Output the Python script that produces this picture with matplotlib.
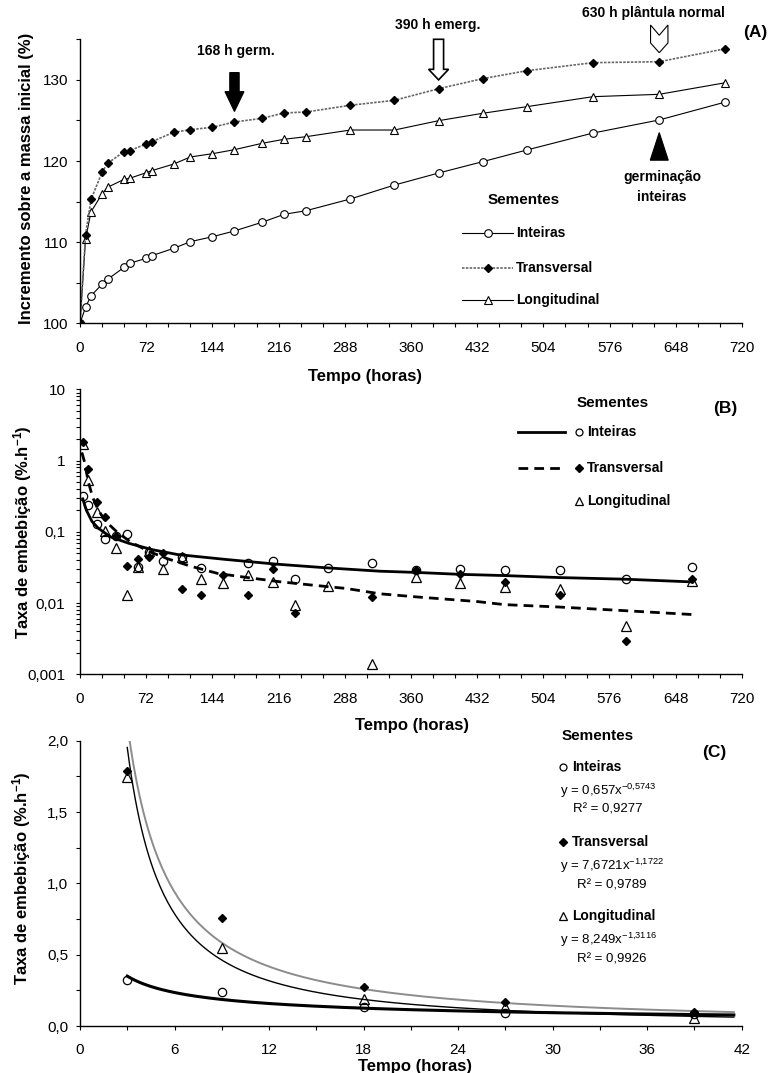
import numpy as np
import matplotlib
matplotlib.use('Agg')
import matplotlib.pyplot as plt
from matplotlib.lines import Line2D
from matplotlib.patches import Polygon
from matplotlib.ticker import MultipleLocator, FixedLocator, FixedFormatter, NullFormatter, FuncFormatter

plt.rcParams['font.family'] = ['Liberation Sans', 'DejaVu Sans']
plt.rcParams['mathtext.fontset'] = 'custom'
plt.rcParams['mathtext.rm'] = 'Liberation Sans'
plt.rcParams['mathtext.bf'] = 'Liberation Sans:bold'
plt.rcParams['mathtext.it'] = 'Liberation Sans:italic'

## ~~ data, panel A: mass increase (%) ~~
t_a = [0, 6, 12, 24, 30, 48, 54, 72, 78, 102, 120, 144, 168, 198, 222, 246, 294, 342, 390, 438, 486, 558, 630, 702]
a_inteiras = [100, 101.97, 103.40, 104.81, 105.42, 106.90, 107.39, 108.01, 108.33, 109.24, 110.06, 110.67,
              111.38, 112.45, 113.43, 113.88, 115.32, 117.04, 118.52, 119.92, 121.36, 123.45, 125.06, 127.27]
a_transversal = [100, 110.88, 115.28, 118.61, 119.72, 121.15, 121.27, 122.10, 122.38, 123.54, 123.86, 124.16,
                 124.81, 125.26, 125.92, 126.04, 126.87, 127.48, 128.91, 130.15, 131.13, 132.12, 132.24, 133.84]
a_longitudinal = [100, 110.35, 113.75, 115.94, 116.76, 117.75, 117.87, 118.56, 118.81, 119.63, 120.50, 120.90,
                  121.40, 122.18, 122.68, 123.00, 123.82, 123.82, 124.97, 125.88, 126.70, 127.93, 128.22, 129.65]
t_germ, t_emerg, t_plantula = 168, 390, 630

## ~~ data, panel B: imbibition rate (log) ~~
nan = np.nan
t_b = [3, 9, 18, 27, 39, 51, 63, 75, 90, 111, 132, 156, 183, 210, 234, 270, 318, 366, 414, 462, 522, 594, 666]
b_inteiras = [0.318, 0.238, 0.129, 0.079, 0.087, 0.092, 0.032, 0.052, 0.039, 0.045, 0.0315, nan, 0.036, 0.039,
              0.022, 0.031, 0.036, 0.029, 0.0296, 0.029, 0.029, 0.022, 0.032]
b_transversal = [1.84, 0.75, 0.265, 0.162, 0.088, 0.033, 0.042, 0.044, 0.051, 0.016, 0.013, 0.0245, 0.013, 0.0296,
                 0.0073, nan, 0.0123, 0.029, 0.0253, 0.020, 0.0129, 0.0029, 0.0215]
b_longitudinal = [1.70, 0.533, 0.187, 0.103, 0.059, 0.0128, 0.032, 0.054, 0.030, 0.045, 0.0215, 0.019, 0.0245,
                  0.0197, 0.0093, 0.0174, 0.0014, 0.023, 0.019, 0.0166, 0.016, 0.0048, 0.0207]
# trend lines
bl_t_int = [3, 7, 13, 20, 33, 53, 79, 106, 158, 213, 267, 326, 366, 413, 462, 521, 594, 666]
bl_int = [0.29, 0.2, 0.14, 0.112, 0.085, 0.069, 0.056, 0.048, 0.041, 0.0352, 0.0313, 0.028, 0.0269, 0.0253,
          0.0243, 0.0228, 0.0216, 0.0198]
bl_t_trv = [2, 5, 9, 11, 14, 20, 28, 40, 55, 75, 95, 120, 150, 180, 216, 250, 290, 326, 366, 432, 462, 521, 594, 666]
bl_trv = [1.3, 0.95, 0.5, 0.41, 0.3, 0.2, 0.14, 0.1, 0.072, 0.053, 0.042, 0.033, 0.026, 0.023, 0.020, 0.018,
          0.016, 0.0135, 0.0122, 0.0105, 0.0095, 0.0088, 0.0078, 0.0069]

## ~~ data, panel C: first hours + power fits ~~
t_c = [3, 9, 18, 27, 39]
c_inteiras = [0.322, 0.24, 0.131, 0.089, 0.085]
c_transversal = [1.79, 0.757, 0.271, 0.17, 0.096]
c_longitudinal = [1.743, 0.549, 0.187, 0.131, 0.058]
fit_inteiras = (0.657, -0.5743, 0.9277)
fit_transversal = (7.6721, -1.1722, 0.9789)
fit_longitudinal = (8.249, -1.3116, 0.9926)
fit_range = (3, 41.5)

W, H = 773, 1073
fig = plt.figure(figsize=(W / 100, H / 100), dpi=100)


def rect(l, t, r, b):
    return [l / W, 1 - b / H, (r - l) / W, (b - t) / H]


def ftext(x, y, s, **kw):
    fig.text(x / W, 1 - y / H, s, **kw)


def fline(x1, x2, y, **kw):
    fig.add_artist(Line2D([x1 / W, x2 / W], [1 - y / H, 1 - y / H], **kw))


def fmark(x, y, **kw):
    fig.add_artist(Line2D([x / W], [1 - y / H], linestyle='none', **kw))


def style(ax, ypad=5.6):
    for s in ['top', 'right']:
        ax.spines[s].set_visible(False)
    for s in ['left', 'bottom']:
        ax.spines[s].set_linewidth(1.0)
    ax.tick_params(which='both', direction='out', length=3, width=0.8, labelsize=11)
    ax.tick_params(axis='x', which='both', pad=9.5)
    ax.tick_params(axis='y', which='both', pad=ypad)


comma = FuncFormatter(lambda v, p: ('%.1f' % v).replace('.', ','))
grey_dot = dict(color='0.4', linestyle=(0, (1.5, 0.8)), linewidth=1.2)

# ~~ PLOT A ~~
axA = fig.add_axes(rect(80, 39.3, 742, 323.3))
axA.plot(t_a, a_inteiras, color='black', lw=0.8, marker='o', ms=5.5, mfc='white', mec='black', mew=0.8)
axA.plot(t_a, a_longitudinal, color='black', lw=0.8, marker='^', ms=6, mfc='white', mec='black', mew=0.8)
axA.plot(t_a, a_transversal, marker='D', ms=4.2, mfc='black', mec='black', **grey_dot)
axA.set_xlim(0, 720)
axA.set_ylim(100, 135)
axA.xaxis.set_major_locator(MultipleLocator(72))
axA.xaxis.set_minor_locator(MultipleLocator(24))
axA.yaxis.set_major_locator(MultipleLocator(10))
axA.yaxis.set_minor_locator(MultipleLocator(5))
style(axA)

dx = 720 / 662
# black arrow 168 h
t = t_germ
axA.add_patch(Polygon([(t - 4.7 * dx, 130.9), (t + 4.7 * dx, 130.9), (t + 4.7 * dx, 128.55), (t + 9.5 * dx, 128.55),
                       (t, 126.1), (t - 9.5 * dx, 128.55), (t - 4.7 * dx, 128.55)],
                      closed=True, fc='black', ec='black', lw=0.8, clip_on=False))
# hollow arrow 390 h
t = t_emerg
axA.add_patch(Polygon([(t - 5 * dx, 135.0), (t + 5 * dx, 135.0), (t + 5 * dx, 131.3), (t + 10 * dx, 131.3),
                       (t, 130.0), (t - 10 * dx, 131.3), (t - 5 * dx, 131.3)],
                      closed=True, fc='white', ec='black', lw=1.2, clip_on=False))
# notched pointer 630 h
t = t_plantula
axA.add_patch(Polygon([(t - 8.7 * dx, 136.76), (t, 135.5), (t + 8.7 * dx, 136.76), (t + 8.7 * dx, 134.55),
                       (t, 133.35), (t - 8.7 * dx, 134.55)],
                      closed=True, fc='white', ec='black', lw=0.8, clip_on=False))
# germination triangle
axA.add_patch(Polygon([(t, 123.5), (t + 9 * dx, 120.1), (t - 9 * dx, 120.1)],
                      closed=True, fc='black', ec='black', lw=0.8, clip_on=False))

ftext(235.5, 51, '168 h germ.', ha='center', va='center', fontsize=10, fontweight='bold')
ftext(438, 25, '390 h emerg.', ha='center', va='center', fontsize=10, fontweight='bold')
ftext(653, 13.5, '630 h plântula normal', ha='center', va='center', fontsize=10, fontweight='bold')
ftext(755, 33, '(A)', ha='center', va='center', fontsize=12.5, fontweight='bold')
ftext(662, 177, 'germinação', ha='center', va='center', fontsize=10, fontweight='bold')
ftext(662, 197, 'inteiras', ha='center', va='center', fontsize=10, fontweight='bold')

# legend A
ftext(524, 200, 'Sementes', ha='center', va='center', fontsize=11, fontweight='bold')
rows = [(233, 'Inteiras', dict(color='black', lw=0.8), dict(marker='o', ms=5.5, mfc='white', mec='black', mew=0.8)),
        (268, 'Transversal', grey_dot, dict(marker='D', ms=4.2, mfc='black', mec='black')),
        (300, 'Longitudinal', dict(color='black', lw=0.8), dict(marker='^', ms=6, mfc='white', mec='black', mew=0.8))]
for y, name, lkw, mkw in rows:
    fline(462, 513, y, **lkw)
    fmark(487.5, y, **mkw)
    ftext(516, y, name, ha='left', va='center', fontsize=10, fontweight='bold')

ftext(27, 178, 'Incremento sobre a massa inicial (%)', rotation=90, ha='center', va='center',
      fontsize=12, fontweight='bold')
ftext(365, 376.5, 'Tempo (horas)', ha='center', va='center', fontsize=12, fontweight='bold')

# ~~ PLOT B ~~
axB = fig.add_axes(rect(80, 389.3, 741.7, 674.3))
axB.set_yscale('log')
axB.plot(bl_t_int, bl_int, color='black', lw=2.0, solid_joinstyle='round')
axB.plot(bl_t_trv, bl_trv, color='black', lw=2.0, linestyle=(0, (3.5, 2.2)))
axB.plot(t_b, b_inteiras, linestyle='none', marker='o', ms=6, mfc='none', mec='black', mew=0.9)
axB.plot(t_b, b_transversal, linestyle='none', marker='D', ms=4.2, mfc='black', mec='black')
axB.plot(t_b, b_longitudinal, linestyle='none', marker='^', ms=6.5, mfc='none', mec='black', mew=0.9)
axB.set_xlim(0, 720)
axB.set_ylim(0.001, 10)
axB.xaxis.set_major_locator(MultipleLocator(72))
axB.xaxis.set_minor_locator(MultipleLocator(24))
axB.yaxis.set_major_locator(FixedLocator([0.001, 0.01, 0.1, 1, 10]))
axB.yaxis.set_major_formatter(FixedFormatter(['0,001', '0,01', '0,1', '1', '10']))
minors = [m * 10.0 ** e for e in range(-3, 1) for m in range(2, 10)]
axB.yaxis.set_minor_locator(FixedLocator(minors))
axB.yaxis.set_minor_formatter(NullFormatter())
style(axB, ypad=7.5)

ftext(613, 403, 'Sementes', ha='center', va='center', fontsize=11, fontweight='bold')
ftext(725, 408, '(B)', ha='center', va='center', fontsize=12.5, fontweight='bold')
fline(518, 565, 432, color='black', lw=2.0)
fmark(578.5, 432, marker='o', ms=5, mfc='none', mec='black', mew=0.9)
ftext(587, 432, 'Inteiras', ha='left', va='center', fontsize=10, fontweight='bold')
fline(518, 565, 468, color='black', lw=2.0, linestyle=(0, (3.5, 2.2)))
fmark(578.5, 468, marker='D', ms=4, mfc='black', mec='black')
ftext(587, 468, 'Transversal', ha='left', va='center', fontsize=10, fontweight='bold')
fmark(578.5, 501, marker='^', ms=5.5, mfc='none', mec='black', mew=0.9)
ftext(587, 501, 'Longitudinal', ha='left', va='center', fontsize=10, fontweight='bold')

ftext(23, 532, 'Taxa de embebição (%.h$^{\\mathbf{-1}}$)', rotation=90, ha='center', va='center',
      fontsize=12, fontweight='bold')
ftext(412, 725.5, 'Tempo (horas)', ha='center', va='center', fontsize=12, fontweight='bold')

# ~~ PLOT C ~~
axC = fig.add_axes(rect(80, 740.7, 741.7, 1026))
xf = np.linspace(fit_range[0], fit_range[1], 300)
axC.plot(xf, fit_transversal[0] * xf ** fit_transversal[1], color='0.55', lw=1.4)
axC.plot(xf, fit_longitudinal[0] * xf ** fit_longitudinal[1], color='black', lw=1.0)
axC.plot(xf, fit_inteiras[0] * xf ** fit_inteiras[1], color='black', lw=2.2)
axC.plot(t_c, c_inteiras, linestyle='none', marker='o', ms=6, mfc='none', mec='black', mew=0.9)
axC.plot(t_c, c_transversal, linestyle='none', marker='D', ms=4.2, mfc='black', mec='black')
axC.plot(t_c, c_longitudinal, linestyle='none', marker='^', ms=6.5, mfc='none', mec='black', mew=0.9)
axC.set_xlim(0, 42)
axC.set_ylim(0, 2.0)
axC.xaxis.set_major_locator(MultipleLocator(6))
axC.xaxis.set_minor_locator(MultipleLocator(3))
axC.yaxis.set_major_locator(MultipleLocator(0.5))
axC.yaxis.set_minor_locator(MultipleLocator(0.25))
axC.yaxis.set_major_formatter(comma)
style(axC)


def num(v, d, math=False):
    s = '%.*f' % (d, v)
    if math:
        return s.replace('.', '{,}')
    return s.replace('.', ',')


ftext(598, 736, 'Sementes', ha='center', va='center', fontsize=11, fontweight='bold')
ftext(714, 753, '(C)', ha='center', va='center', fontsize=12.5, fontweight='bold')
legC = [(767, 'Inteiras', dict(marker='o', ms=5, mfc='none', mec='black', mew=0.9), fit_inteiras, 3, 4, 573),
        (842, 'Transversal', dict(marker='D', ms=4, mfc='black', mec='black'), fit_transversal, 4, 4, 577),
        (916, 'Longitudinal', dict(marker='^', ms=5.5, mfc='none', mec='black', mew=0.9), fit_longitudinal, 3, 4, 577)]
for y, name, mkw, fit, da, db, rx in legC:
    fmark(562.5, y, **mkw)
    ftext(572, y, name, ha='left', va='center', fontsize=10, fontweight='bold')
    eq = 'y = ' + num(fit[0], da) + 'x$^{\\mathregular{' + num(fit[1], db, math=True) + '}}$'
    ftext(560, y + 24, eq, ha='left', va='center', fontsize=9.5)
    ftext(rx, y + 43, 'R² = ' + num(fit[2], 4), ha='left', va='center', fontsize=9.5)

ftext(22, 878, 'Taxa de embebição (%.h$^{\\mathbf{-1}}$)', rotation=90, ha='center', va='center',
      fontsize=12, fontweight='bold')
ftext(415, 1067, 'Tempo (horas)', ha='center', va='center', fontsize=12, fontweight='bold')

fig.savefig('out.png', dpi=100)
